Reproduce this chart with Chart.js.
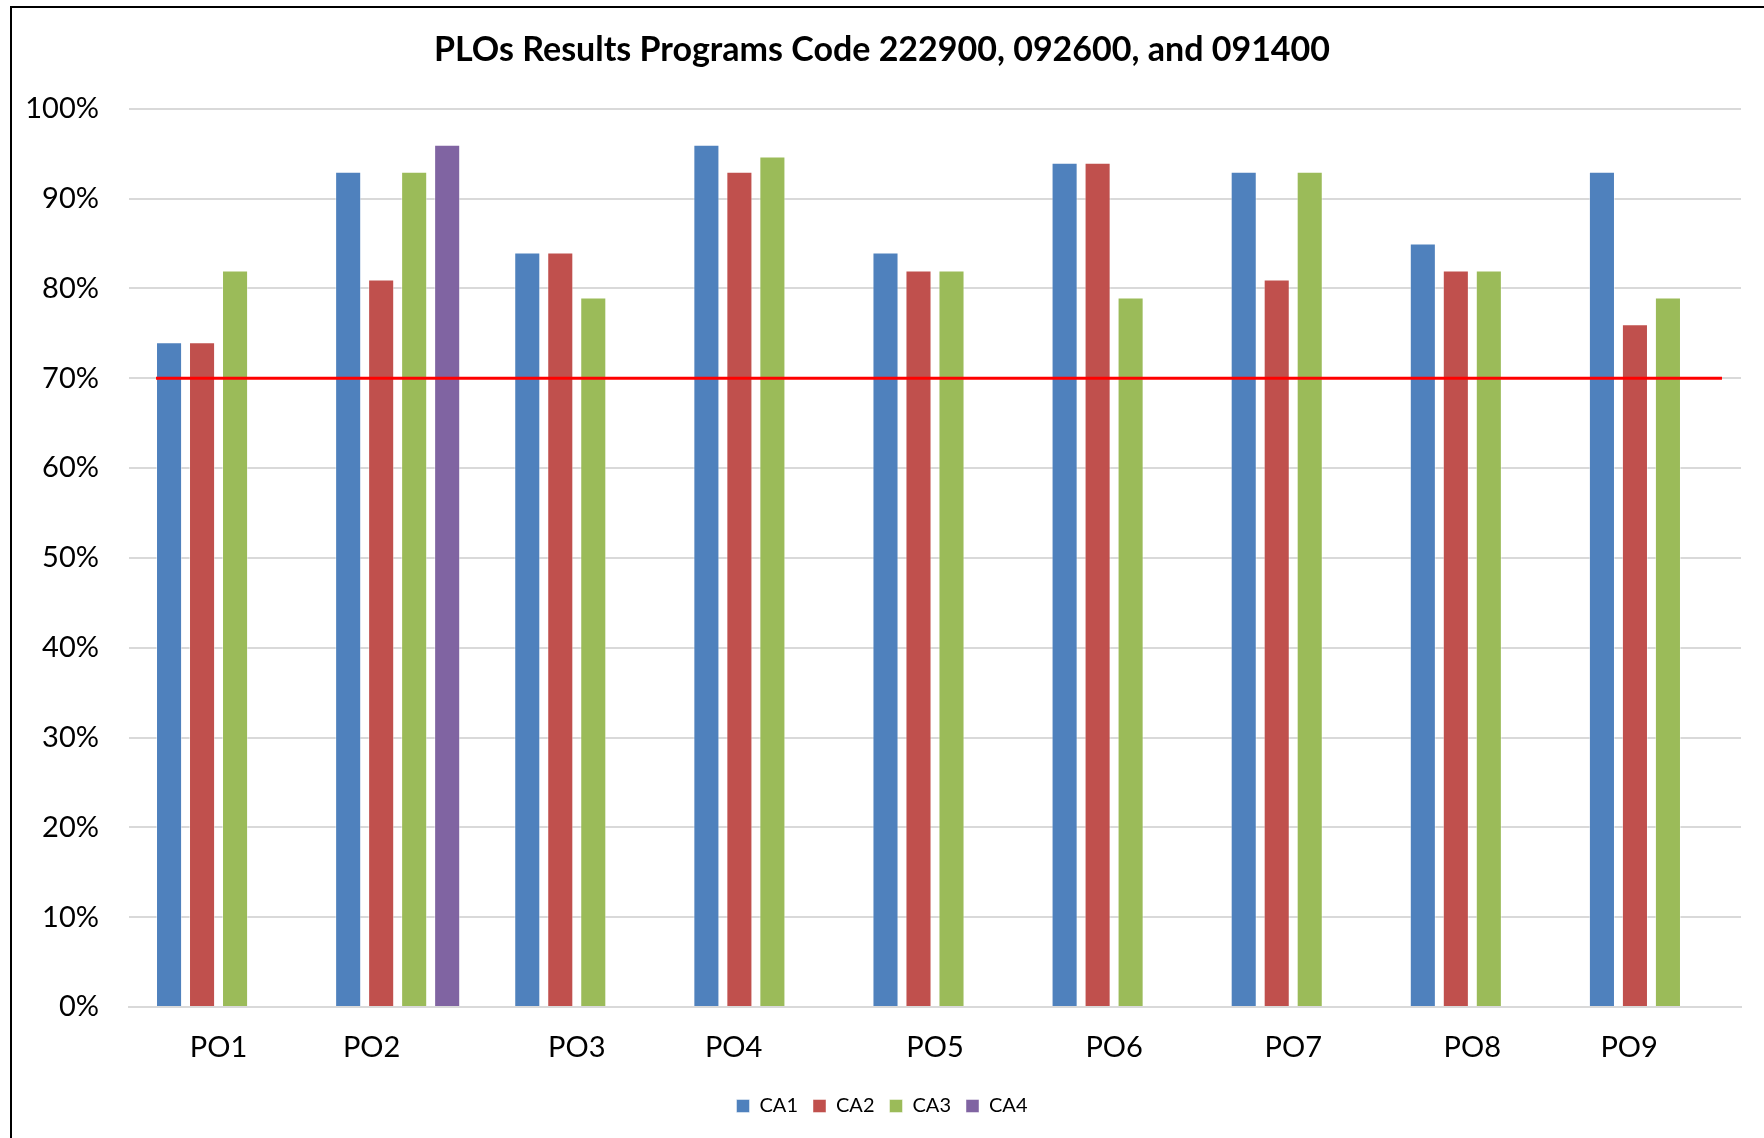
<!DOCTYPE html>
<html>
<head>
<meta charset="utf-8">
<script src="https://cdn.jsdelivr.net/npm/chart.js@4/dist/chart.umd.min.js"></script>
<style>
  html, body { margin: 0; padding: 0; background: #fff; overflow: hidden; }
  #frame { position: absolute; left: 10px; top: 6px; width: 1800px; height: 1200px; border: 2px solid #000; }
  #chartBox { position: absolute; left: 0; top: 0; width: 1764px; height: 1138px; }
</style>
</head>
<body>
<div id="frame"></div>
<div id="chartBox"><canvas id="ploChart"></canvas></div>
<script>
// categories (trailing spaces kept as in the source sheet)
const categories = ["PO1", "PO2       ", "PO3", "PO4      ", "PO5", "PO6", "PO7", "PO8", "PO9      "];
const ca1 = [74, 93, 84, 96, 84, 94, 93, 85, 93];
const ca2 = [74, 81, 84, 93, 82, 94, 81, 82, 76];
const ca3 = [82, 93, 79, 94.7, 82, 79, 93, 82, 79];
const ca4 = [null, 96, null, null, null, null, null, null, null];
const seriesNames = ["CA1", "CA2", "CA3", "CA4"];
const targetLine = 70;

const FONT = "Lato, 'Noto Sans', sans-serif";

// red 70% line across the whole group range
const targetPlugin = {
  id: "targetLine",
  afterDatasetsDraw(chart) {
    const x = chart.scales.x, y = chart.scales.y;
    const first = chart.getDatasetMeta(0).data[0];
    const half = x.getPixelForValue(0) - (first.x - first.width / 2);
    const x0 = x.getPixelForValue(0) - half;
    const x1 = x.getPixelForValue(categories.length - 1) + half + 8;
    const yy = y.getPixelForValue(targetLine);
    const ctx = chart.ctx;
    ctx.save();
    ctx.strokeStyle = "#ff0000";
    ctx.lineWidth = 3;
    ctx.beginPath();
    ctx.moveTo(x0, yy);
    ctx.lineTo(x1, yy);
    ctx.stroke();
    ctx.restore();
  }
};

const colors = ["#4f81bd", "#c0504d", "#9bbb59", "#8064a2"];
const values = [ca1, ca2, ca3, ca4];

new Chart(document.getElementById("ploChart"), {
  type: "bar",
  data: {
    labels: categories,
    datasets: values.map((v, i) => ({
      label: seriesNames[i],
      data: v,
      backgroundColor: colors[i],
      borderColor: "rgba(255,255,255,0.45)",
      borderWidth: 1,
      categoryPercentage: 0.737,
      barPercentage: 0.79
    }))
  },
  options: {
    responsive: true,
    maintainAspectRatio: false,
    animation: false,
    layout: { padding: { left: 23, right: 23, top: 30, bottom: 12 } },
    plugins: {
      title: {
        display: true,
        text: "PLOs Results Programs Code 222900, 092600, and 091400",
        color: "#000",
        font: { family: FONT, size: 34, weight: "bold" },
        padding: { top: 0, bottom: 38 }
      },
      legend: {
        position: "bottom",
        labels: {
          color: "#000",
          font: { family: FONT, size: 20 },
          boxWidth: 13,
          boxHeight: 13,
          padding: 15
        }
      },
      tooltip: { enabled: false }
    },
    scales: {
      x: {
        afterFit(s) { s.height = 74; },
        grid: { display: false, drawTicks: false },
        border: { display: true, color: "#d9d9d9", width: 2 },
        ticks: {
          color: "#000",
          font: { family: FONT, size: 29 },
          padding: 23,
          autoSkip: false,
          maxRotation: 0
        }
      },
      y: {
        min: 0,
        max: 100,
        afterFit(s) { s.width = 106; },
        grid: { color: "#d9d9d9", lineWidth: 2, drawTicks: false },
        border: { display: false },
        ticks: {
          stepSize: 10,
          color: "#000",
          font: { family: FONT, size: 29 },
          padding: 30,
          callback: v => v + "%"
        }
      }
    }
  },
  plugins: [targetPlugin]
});
</script>
</body>
</html>
